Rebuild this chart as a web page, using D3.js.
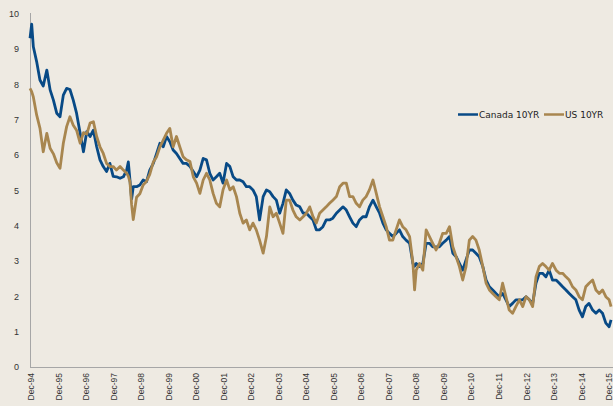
<!DOCTYPE html>
<html>
<head>
<meta charset="utf-8">
<script src="https://cdn.jsdelivr.net/npm/d3@7"></script>
<style>
  body { margin: 0; background: #eeeae2; }
  svg { display: block; font-family: "DejaVu Sans", Verdana, sans-serif; }
</style>
</head>
<body>
<div id="chart"></div>
<script>
// dates as decimal years
var dates = [1994.88,1994.94,1995.00,1995.12,1995.24,1995.36,1995.49,1995.61,1995.73,1995.85,1995.97,
  1996.09,1996.21,1996.33,1996.45,1996.57,1996.70,1996.82,1996.94,1997.06,1997.18,1997.30,1997.42,
  1997.54,1997.66,1997.78,1997.90,1998.02,1998.15,1998.27,1998.39,1998.45,1998.51,1998.57,1998.63,
  1998.75,1998.87,1998.99,1999.11,1999.23,1999.36,1999.48,1999.60,1999.72,1999.84,1999.96,2000.08,
  2000.20,2000.32,2000.44,2000.56,2000.69,2000.81,2000.93,2001.05,2001.17,2001.29,2001.41,2001.53,
  2001.65,2001.77,2001.89,2002.02,2002.14,2002.26,2002.38,2002.50,2002.62,2002.74,2002.86,2002.98,
  2003.10,2003.22,2003.35,2003.47,2003.59,2003.71,2003.83,2003.95,2004.07,2004.19,2004.31,2004.43,
  2004.55,2004.68,2004.80,2004.92,2005.04,2005.16,2005.28,2005.40,2005.52,2005.64,2005.76,2005.88,
  2006.01,2006.13,2006.25,2006.37,2006.49,2006.61,2006.73,2006.85,2006.97,2007.09,2007.21,2007.34,
  2007.46,2007.58,2007.70,2007.82,2007.94,2008.06,2008.18,2008.30,2008.42,2008.54,2008.67,2008.79,
  2008.85,2008.91,2009.03,2009.15,2009.27,2009.39,2009.51,2009.63,2009.75,2009.87,2010.00,2010.12,
  2010.24,2010.36,2010.48,2010.60,2010.72,2010.84,2010.96,2011.08,2011.20,2011.33,2011.45,2011.57,
  2011.69,2011.81,2011.93,2012.05,2012.17,2012.29,2012.41,2012.53,2012.66,2012.78,2012.90,2013.02,
  2013.14,2013.26,2013.38,2013.50,2013.62,2013.74,2013.86,2013.99,2014.11,2014.23,2014.35,2014.47,
  2014.59,2014.71,2014.83,2014.95,2015.07,2015.19,2015.32,2015.44,2015.56,2015.68,2015.80,2015.92,
  2015.99];

var canada = [9.30,9.70,9.06,8.64,8.12,7.95,8.40,7.84,7.55,7.18,7.08,
  7.69,7.88,7.85,7.55,7.18,6.61,6.09,6.66,6.52,6.70,6.23,5.86,
  5.67,5.53,5.76,5.39,5.38,5.34,5.38,5.57,5.80,5.29,4.75,5.10,
  5.10,5.15,5.29,5.24,5.57,5.76,6.04,6.33,6.23,6.52,6.37,6.14,
  6.04,5.90,5.76,5.76,5.67,5.53,5.38,5.57,5.90,5.86,5.48,5.29,
  5.38,5.48,5.20,5.76,5.67,5.38,5.29,5.29,5.24,5.10,5.10,5.01,
  4.82,4.16,4.82,5.01,4.96,4.82,4.72,4.35,4.63,5.01,4.91,4.72,
  4.58,4.53,4.35,4.35,4.25,4.16,3.88,3.88,3.97,4.16,4.16,4.21,
  4.35,4.44,4.53,4.44,4.25,4.07,3.97,4.16,4.25,4.25,4.53,4.72,
  4.53,4.35,4.07,3.88,3.78,3.69,3.78,3.88,3.69,3.59,3.50,2.93,
  2.85,2.93,2.84,2.93,3.50,3.50,3.40,3.40,3.40,3.50,3.59,3.69,
  3.22,3.12,2.93,2.74,3.03,3.31,3.31,3.22,3.12,2.84,2.46,2.27,
  2.18,2.08,1.99,2.08,1.90,1.71,1.80,1.90,1.90,1.90,1.99,1.90,
  1.80,2.37,2.65,2.65,2.55,2.74,2.46,2.46,2.37,2.27,2.18,2.08,
  1.99,1.90,1.61,1.42,1.71,1.80,1.61,1.52,1.61,1.52,1.24,1.14,
  1.33];

var us = [7.88,7.79,7.64,7.13,6.76,6.09,6.61,6.19,6.03,5.78,5.62,
  6.33,6.80,7.08,6.84,6.70,6.33,6.63,6.59,6.90,6.94,6.52,6.23,
  6.04,5.76,5.67,5.67,5.57,5.67,5.57,5.48,5.40,5.24,4.60,4.17,
  4.80,4.90,5.15,5.25,5.45,5.80,5.95,6.23,6.42,6.61,6.75,6.23,
  6.52,6.23,5.95,5.86,5.81,5.38,5.20,4.91,5.29,5.48,5.29,4.91,
  4.63,4.53,5.01,5.29,5.01,5.10,4.82,4.35,4.07,4.16,3.88,4.07,
  3.88,3.59,3.22,3.69,4.53,4.25,4.35,4.07,3.78,4.72,4.72,4.44,
  4.25,4.16,4.25,4.35,4.53,4.25,4.07,4.35,4.44,4.53,4.63,4.72,
  4.82,5.10,5.20,5.20,4.82,4.82,4.63,4.53,4.72,4.82,5.01,5.29,
  4.91,4.53,4.25,3.97,3.59,3.59,3.88,4.16,3.97,3.88,3.69,2.93,
  2.18,2.74,2.93,2.74,3.88,3.69,3.50,3.31,3.50,3.78,3.78,3.97,
  3.40,3.12,2.84,2.46,2.84,3.59,3.69,3.59,3.31,2.84,2.37,2.18,
  2.08,1.99,1.90,2.37,1.99,1.61,1.52,1.71,1.90,1.71,1.99,1.90,
  1.71,2.55,2.84,2.93,2.84,2.74,2.93,2.74,2.65,2.65,2.55,2.46,
  2.27,2.18,1.99,1.90,2.27,2.37,2.46,2.18,2.08,2.18,1.99,1.90,
  1.71];

var tickYears = d3.range(1994, 2016);
var tickLabels = ["Dec-94","Dec-95","Dec-96","Dec-97","Dec-98","Dec-99","Dec-00","Dec-01","Dec-02","Dec-03","Dec-04",
  "Dec-05","Dec-06","Dec-07","Dec-08","Dec-09","Dec-10","Dec-11","Dec-12","Dec-13","Dec-14","Dec-15"];
var yTicks = [0,1,2,3,4,5,6,7,8,9,10];
var seriesNames = ["Canada 10YR", "US 10YR"];
var seriesColors = ["#084a86", "#a8864f"];

function toDate(y){
  var yr = Math.floor(y);
  var a = Date.UTC(yr,0,1), b = Date.UTC(yr+1,0,1);
  return new Date(a + (y-yr)*(b-a));
}

var W = 613, H = 406;
var svg = d3.select("#chart").append("svg").attr("width", W).attr("height", H);
svg.append("rect").attr("width", W).attr("height", H).attr("fill", "#eeeae2");

var x = d3.scaleUtc().domain([new Date(Date.UTC(1994,11,1)), new Date(Date.UTC(2015,11,1))]).range([31, 609]);
var y = d3.scaleLinear().domain([0,10]).range([367, 13.5]);

// y axis
var yAxis = svg.append("g").attr("transform","translate(30,0)")
  .call(d3.axisLeft(y).tickValues(yTicks).tickSize(0).tickPadding(11).tickFormat(d3.format("d")));
yAxis.select(".domain").attr("stroke","#a6a6a6").attr("d","M0.5,13V367.5");
yAxis.selectAll("text").style("font-size","9px").style("fill","#333");

// x axis
var xAxis = svg.append("g").attr("transform","translate(0,367)")
  .call(d3.axisBottom(x).tickValues(tickYears.map(function(d){return new Date(Date.UTC(d,11,1));}))
    .tickSize(0).tickFormat(function(d,i){return tickLabels[i];}));
xAxis.select(".domain").attr("stroke","#a6a6a6").attr("d","M30,0.5H613");
xAxis.selectAll("text").attr("transform","rotate(-90)").attr("x",-6).attr("y",0).attr("dy","0.3em")
  .style("text-anchor","end").style("font-size","8.5px").style("fill","#333");

// lines, US drawn on top
var line = d3.line().x(function(d){return x(toDate(d[0]));}).y(function(d){return y(d[1]);});
[canada, us].forEach(function(vals, idx){
  svg.append("path").datum(dates.map(function(d,i){return [d, vals[i]];}))
    .attr("d", line).attr("fill","none").attr("stroke", seriesColors[idx])
    .attr("stroke-width", 2.8).attr("stroke-linejoin","round");
});

// legend
var leg = svg.append("g").attr("transform","translate(458,114.5)");
[0,1].forEach(function(i){
  var g = leg.append("g").attr("transform","translate("+(i*86)+",0)");
  g.append("line").attr("x1",0).attr("x2",20).attr("y1",0).attr("y2",0)
    .attr("stroke",seriesColors[i]).attr("stroke-width",2.5);
  g.append("text").attr("x",21).attr("y",3.3).style("font-size","9px").style("fill","#222").text(seriesNames[i]);
});
</script>
</body>
</html>
